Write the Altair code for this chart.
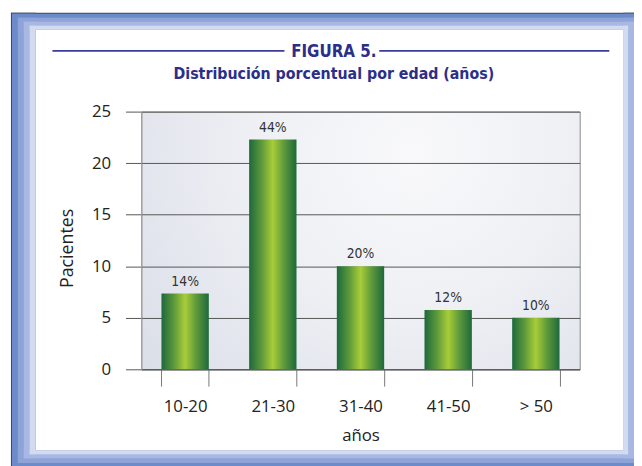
import altair as alt
import pandas as pd

# ---- data ----
categories = ["10-20", "21-30", "31-40", "41-50", "> 50"]
pacientes = [7.35, 22.3, 10.0, 5.75, 5.0]
porcentajes = ["14%", "44%", "20%", "12%", "10%"]
y_ticks = [0, 5, 10, 15, 20, 25]

title_text = "FIGURA 5."
subtitle_text = "Distribución porcentual por edad (años)"
x_title = "años"
y_title = "Pacientes"

df = pd.DataFrame({"edad": categories, "pacientes": pacientes, "pct": porcentajes})
one = pd.DataFrame({"k": [0]})

# page offset of the plot origin (page px) -> plot coordinates
OX, OY = 143, 110
W, H = 444, 261

TITLE_BLUE = "#2c2e8a"
LABEL_FONT = "Open Sans"
TITLE_FONT = "DejaVu Sans Condensed"


def rect(x1, y1, x2, y2, color):
    return alt.Chart(one).mark_rect(color=color, strokeWidth=0).encode(
        x=alt.value(x1 - OX), x2=alt.value(x2 - OX),
        y=alt.value(y1 - OY), y2=alt.value(y2 - OY))


# frame bands: (outer box, colour), drawn outside -> inside
white_box = (36, 27, 631, 453)
bands = [
    ((11, 10, 760, 560), "#3e4760"),
    ((12, 11, 760, 560), "#6b8bcb"),
    ((18, 15, 648, 466), "#8ea3d7"),
    ((24, 19, 642, 461), "#a9b8e3"),
    ((30, 23, 636, 457), "#d3dbf1"),
]
frame_layers = []
wx1, wy1, wx2, wy2 = white_box
for (x1, y1, x2, y2), col in bands:
    frame_layers += [
        rect(x1, y1, wx1, y2, col),
        rect(wx2, y1, x2, y2, col),
        rect(x1, y1, x2, wy1, col),
        rect(x1, wy2, x2, y2, col),
    ]

bar_grad = alt.LinearGradient(
    gradient="linear", x1=0, x2=1, y1=0, y2=0,
    stops=[alt.GradientStop(color="#1d693b", offset=0),
           alt.GradientStop(color="#5f9a3b", offset=0.27),
           alt.GradientStop(color="#a8cd38", offset=0.5),
           alt.GradientStop(color="#5f9a3b", offset=0.73),
           alt.GradientStop(color="#1d693b", offset=1)])

x_enc = alt.X("edad:N", sort=categories,
              scale=alt.Scale(paddingInner=0.46, paddingOuter=0.23),
              axis=alt.Axis(title=x_title, labelAngle=0, tickBand="extent",
                            tickSize=17, tickColor="#777777", domainColor="#555555",
                            labelFont=LABEL_FONT, labelFontSize=17, labelColor="#222222",
                            labelBaseline="alphabetic", labelPadding=26,
                            titleFont=LABEL_FONT, titleFontSize=17, titleFontWeight="normal",
                            titleColor="#222222", titleBaseline="alphabetic", titleY=72,
                            grid=False))
y_enc = alt.Y("pacientes:Q", scale=alt.Scale(domain=[0, 25], nice=False),
              axis=alt.Axis(values=y_ticks, title=y_title, grid=True,
                            gridColor="#555555", gridOpacity=1, tickColor="#555555",
                            tickSize=16, domainColor="#a0a0a0", labelPadding=15,
                            labelFont=LABEL_FONT, labelFontSize=17, labelColor="#222222",
                            titleFont=LABEL_FONT, titleFontSize=18, titleFontWeight="normal",
                            titleColor="#222222", titleAngle=270, titleAlign="center",
                            titleBaseline="alphabetic", titleX=-70, titleY=138))

bars = alt.Chart(df).mark_bar(color=bar_grad).encode(x=x_enc, y=y_enc)
labels = alt.Chart(df).mark_text(
    dy=-8, baseline="alphabetic", fontSize=14, color="#333333",
    font="Liberation Sans Narrow, DejaVu Sans Condensed, sans-serif").encode(
    x=alt.X("edad:N", sort=categories), y="pacientes:Q", text="pct:N")

title = alt.Chart(one).mark_text(
    text=title_text, font=TITLE_FONT, fontSize=17, fontWeight="bold",
    color=TITLE_BLUE, baseline="alphabetic", align="center").encode(
    x=alt.value(338 - OX), y=alt.value(55 - OY))
subtitle = alt.Chart(one).mark_text(
    text=subtitle_text, font=TITLE_FONT, fontSize=16, fontWeight="bold",
    color=TITLE_BLUE, baseline="alphabetic", align="center").encode(
    x=alt.value(338 - OX), y=alt.value(76.5 - OY))
line_l = alt.Chart(one).mark_rule(color="#3a3d9c", strokeWidth=1.6).encode(
    x=alt.value(53 - OX), x2=alt.value(288 - OX), y=alt.value(48.5 - OY))
line_r = alt.Chart(one).mark_rule(color="#3a3d9c", strokeWidth=1.6).encode(
    x=alt.value(384 - OX), x2=alt.value(617 - OX), y=alt.value(48.5 - OY))

bg_expr = ("{gradient: 'radial', x1: 0.62, y1: 0.3, r1: 0, x2: 0.62, y2: 0.3, r2: 0.8, "
           "stops: [{offset: 0, color: '#f9f9fb'}, {offset: 0.45, color: '#eef0f4'}, "
           "{offset: 1, color: '#dadee8'}]}")

chart = alt.layer(*frame_layers, bars, labels, title, subtitle, line_l, line_r).properties(
    width=W, height=H, autosize=alt.AutoSizeParams(type="none"),
    padding={"left": OX - 8, "top": OY - 8, "right": 634 - (OX - 8) - W,
             "bottom": 458 - (OY - 8) - H},
    background="white",
).configure_view(fill={"expr": bg_expr}, stroke="#8a8a8a", strokeWidth=1)

chart.save("out.html", embed_options={"renderer": "svg", "actions": False})
